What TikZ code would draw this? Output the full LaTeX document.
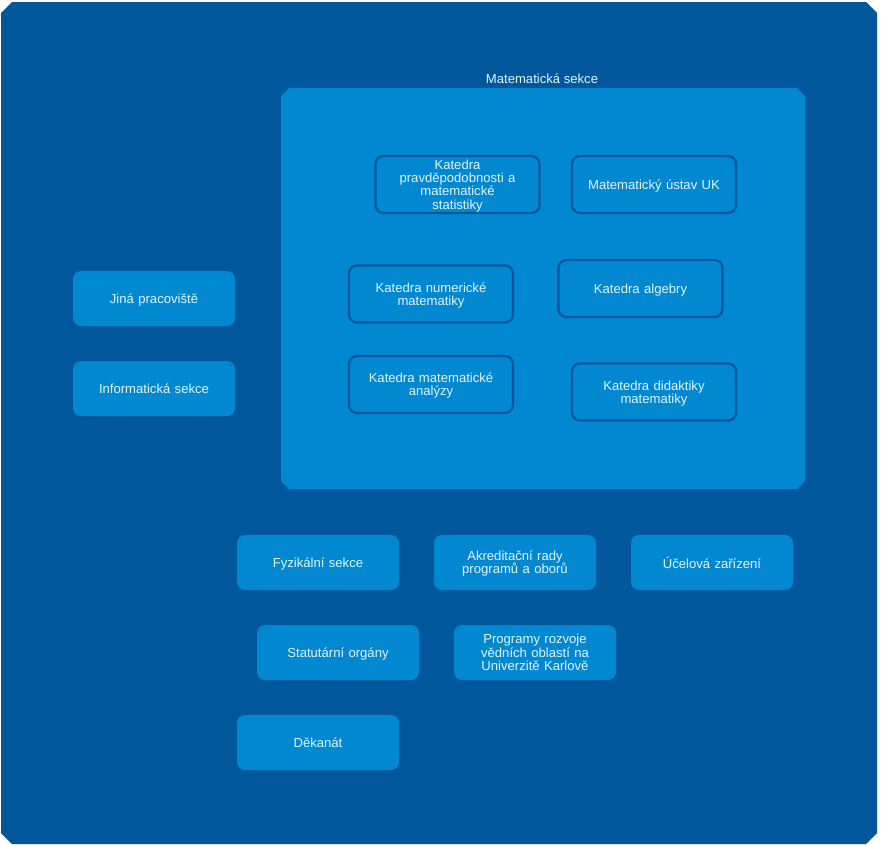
\documentclass[tikz,border=0pt]{standalone}
\usepackage{fontspec}
\setmainfont{Liberation Sans}
\definecolor{deepblue}{HTML}{01579B}
\definecolor{midblue}{HTML}{0288D1}
\definecolor{paletext}{HTML}{E1F5FE}
% caption font: fixed line pitch, never widened by tall accents
\newcommand{\captionfont}{\fontsize{13.1}{13.3}\selectfont\lineskiplimit=-20pt\relax}
\tikzset{
  x=1pt, y=-1pt,
  labelfont/.style={font=\captionfont},
  caption/.style={labelfont, text=paletext, align=center, text width=140pt,
    inner sep=0pt, yshift=-2pt},
  unit/.style={rounded corners=8pt, fill=midblue,
    minimum width=162pt, minimum height=55pt, inner sep=0pt},
  dept/.style={unit, draw=deepblue, line width=2.2pt,
    minimum width=164pt, minimum height=57pt},
}
% box with cut-off corners: fill colour, left x, top y, right x, bottom y, cut size
\newcommand{\cutbox}[6]{%
  \fill[#1] (#2+#6,#3) -- (#4-#6,#3) -- (#4,#3+#6) -- (#4,#5-#6) -- (#4-#6,#5)
    -- (#2+#6,#5) -- (#2,#5-#6) -- (#2,#3+#6) -- cycle;}
% a captioned box: style, name, position, caption (struts keep lines evenly centred)
\newcommand{\orgbox}[4]{\node[#1, label={[caption]center:\strut #4\strut}] (#2) at #3 {};}
\begin{document}
\begin{tikzpicture}
\useasboundingbox (0,0) rectangle (881,846);
\fill[white] (0,0) rectangle (881,846);
% faculty frame
\cutbox{deepblue}{1}{2}{877}{844}{11}
% mathematical section
\cutbox{midblue}{281}{88}{805}{489}{8}
\node[text=paletext, labelfont] (mathlabel) at (542,79) {Matematická sekce};
% departments inside the section
\orgbox{dept}{kpms}{(457.5,184.5)}{Katedra\\pravděpodobnosti a\\matematické\\statistiky}
\orgbox{dept}{muuk}{(654,184.5)}{Matematický ústav UK}
\orgbox{dept}{knm}{(431,294)}{Katedra numerické\\matematiky}
\orgbox{dept}{ka}{(640.5,288.5)}{Katedra algebry}
\orgbox{dept}{kma}{(431,384.5)}{Katedra matematické\\analýzy}
\orgbox{dept}{kdm}{(654,392)}{Katedra didaktiky\\matematiky}
% other units
\orgbox{unit}{jina}{(154,298.5)}{Jiná pracoviště}
\orgbox{unit}{inf}{(154,388.5)}{Informatická sekce}
\orgbox{unit}{fyz}{(318,562.5)}{Fyzikální sekce}
\orgbox{unit}{akr}{(515,562.5)}{Akreditační rady\\programů a oborů}
\orgbox{unit}{ucel}{(712,562.5)}{Účelová zařízení}
\orgbox{unit}{stat}{(338,652.5)}{Statutární orgány}
\orgbox{unit}{prog}{(535,652.5)}{Programy rozvoje\\vědních oblastí na\\Univerzitě Karlově}
\orgbox{unit}{dek}{(318,742.5)}{Děkanát}
\end{tikzpicture}
\end{document}
